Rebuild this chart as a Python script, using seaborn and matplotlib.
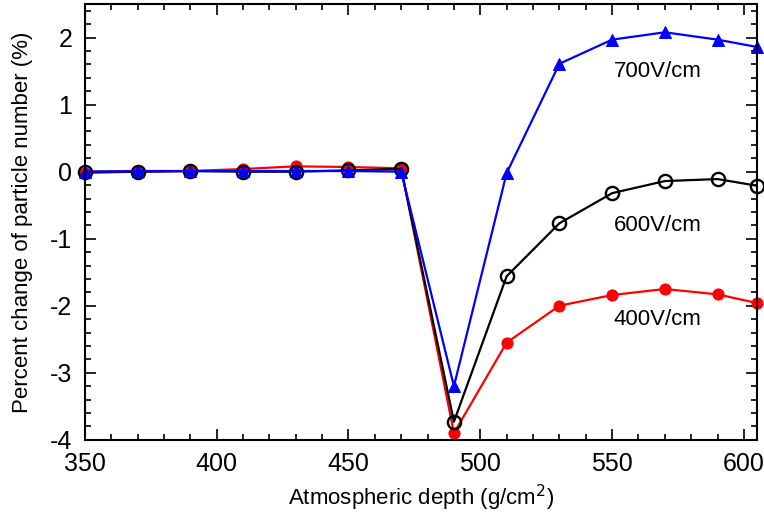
import matplotlib
matplotlib.use("Agg")
import matplotlib.pyplot as plt
import seaborn as sns
import pandas as pd
from matplotlib.ticker import MultipleLocator

depth = [350, 370, 390, 410, 430, 450, 470, 490, 510, 530, 550, 570, 590, 605]
v400 = [-0.02, 0.0, 0.01, 0.04, 0.08, 0.07, 0.05, -3.90, -2.55, -2.00, -1.84, -1.75, -1.83, -1.96]
v600 = [0.0, 0.0, 0.01, 0.0, 0.0, 0.02, 0.04, -3.73, -1.56, -0.77, -0.32, -0.14, -0.11, -0.21]
v700 = [0.0, 0.01, 0.01, 0.01, 0.01, 0.01, 0.0, -3.20, -0.02, 1.61, 1.97, 2.08, 1.97, 1.86]
labels = ["400V/cm", "600V/cm", "700V/cm"]
label_x = [550.5, 550.5, 550.5]
label_y = [-2.2, -0.8, 1.5]

sns.set_style("ticks")
plt.rcParams['font.family'] = ['Liberation Sans', 'DejaVu Sans']
plt.rcParams['axes.unicode_minus'] = False
plt.rcParams['text.color'] = 'black'
plt.rcParams['axes.labelcolor'] = 'black'
plt.rcParams['xtick.color'] = 'black'
plt.rcParams['ytick.color'] = 'black'
plt.rcParams['axes.edgecolor'] = 'black'

fig = plt.figure(figsize=(7.64, 5.15), dpi=100)
ax = fig.add_axes([0.111, 0.146, 0.880, 0.846])

df400 = pd.DataFrame({"x": depth, "y": v400})
df600 = pd.DataFrame({"x": depth, "y": v600})
df700 = pd.DataFrame({"x": depth, "y": v700})

sns.lineplot(data=df400, x="x", y="y", ax=ax, color="#ff0000", lw=1.6,
             marker="o", markersize=8, markeredgecolor="#ff0000", clip_on=False)
sns.lineplot(data=df600, x="x", y="y", ax=ax, color="black", lw=1.6,
             marker="o", markersize=9.5, markerfacecolor="none",
             markeredgecolor="black", markeredgewidth=1.7, clip_on=False)
sns.lineplot(data=df700, x="x", y="y", ax=ax, color="#0000ff", lw=1.6,
             marker="^", markersize=8, markeredgecolor="#0000ff", clip_on=False)

for t, x, y in zip(labels, label_x, label_y):
    ax.text(x, y, t, fontsize=16, va="center", ha="left")

ax.set_xlim(350, 605)
ax.set_ylim(-4, 2.5)
ax.xaxis.set_major_locator(MultipleLocator(50))
ax.xaxis.set_minor_locator(MultipleLocator(10))
ax.yaxis.set_major_locator(MultipleLocator(1))
ax.yaxis.set_minor_locator(MultipleLocator(0.2))
ax.tick_params(which="both", direction="in", top=True, right=True, width=1.2)
ax.tick_params(which="major", length=8, labelsize=18, pad=9)
ax.tick_params(which="minor", length=4)
for s in ax.spines.values():
    s.set_linewidth(1.5)
    s.set_visible(True)

ax.set_xlabel("Atmospheric depth (g/cm$^2$)", fontsize=16, labelpad=5)
ax.set_ylabel("Percent change of particle number (%)", fontsize=16, labelpad=12)

fig.savefig("out.png", dpi=100)
